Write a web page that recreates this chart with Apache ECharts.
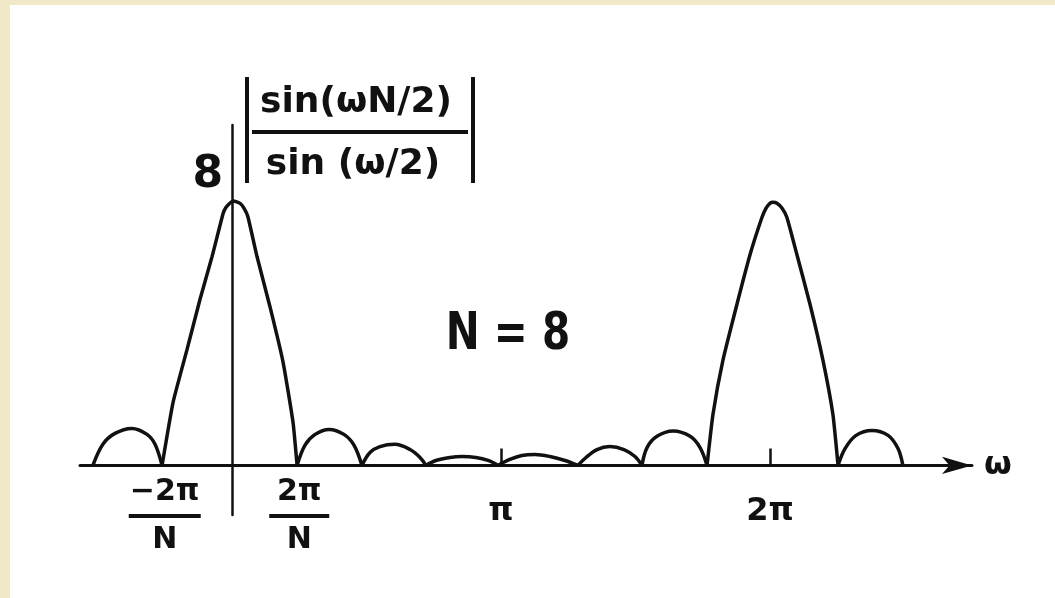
<!DOCTYPE html>
<html>
<head>
<meta charset="utf-8">
<script src="https://cdn.jsdelivr.net/npm/echarts@6/dist/echarts.min.js"></script>
<style>
  html, body { margin: 0; padding: 0; background: #f1e8c8; }
  #chart { position: absolute; left: 10px; top: 5px; width: 1045px; height: 593px; background: #fff; }
</style>
</head>
<body>
<div id="chart"></div>
<script>
// omega in units of pi, value = |sin(wN/2)/sin(w/2)| as drawn (N = 8)
const mainLobe0 = [[-0.26, 0], [-0.219, 1.91], [-0.167, 3.51], [-0.119, 5.02], [-0.074, 6.32], [-0.033, 7.62],
                   [-0.022, 7.81], [-0.007, 7.94], [0.005, 8], [0.03, 7.93], [0.045, 7.78], [0.059, 7.53],
                   [0.093, 6.32], [0.141, 4.81], [0.19, 3.12], [0.227, 1.3], [0.242, 0]];
const mainLobe1 = [[1.766, 0], [1.788, 1.54], [1.825, 3.18], [1.877, 4.87], [1.926, 6.38], [1.97, 7.5],
                   [1.985, 7.78], [2.0, 7.93], [2.011, 7.96], [2.026, 7.93], [2.045, 7.78], [2.063, 7.5],
                   [2.1, 6.38], [2.149, 4.87], [2.197, 3.18], [2.234, 1.54], [2.253, 0]];
const leftLobe = [[-0.517, 0], [-0.48, 0.64], [-0.435, 0.97], [-0.372, 1.12], [-0.316, 0.94], [-0.286, 0.64], [-0.26, 0]];
const lobeB = [[0.242, 0], [0.271, 0.61], [0.309, 0.94], [0.361, 1.09], [0.416, 0.94], [0.454, 0.61], [0.483, 0]];
const lobeC = [[0.483, 0], [0.513, 0.39], [0.55, 0.57], [0.606, 0.64], [0.662, 0.48], [0.699, 0.24], [0.721, 0]];
const lobeD = [[0.721, 0], [0.758, 0.15], [0.81, 0.24], [0.855, 0.27], [0.907, 0.24], [0.952, 0.15], [0.989, 0]];
const lobeE = [[0.989, 0], [1.033, 0.18], [1.078, 0.3], [1.126, 0.33], [1.182, 0.27], [1.238, 0.15], [1.286, 0]];
const lobeF = [[1.286, 0], [1.316, 0.24], [1.357, 0.48], [1.405, 0.57], [1.457, 0.48], [1.498, 0.27], [1.524, 0]];
const lobeG = [[1.524, 0], [1.543, 0.54], [1.58, 0.88], [1.64, 1.04], [1.703, 0.88], [1.74, 0.54], [1.766, 0]];
const lobeH = [[2.253, 0], [2.279, 0.51], [2.32, 0.91], [2.379, 1.06], [2.439, 0.91], [2.476, 0.51], [2.494, 0]];

const mainLobes = [mainLobe0, mainLobe1];
const sideLobes = [leftLobe, lobeB, lobeC, lobeD, lobeE, lobeF, lobeG, lobeH];

// x tick labels (value in units of pi)
const labelValues = [-0.25, 0.25, 1, 2];
const labelNumer = ['−2π', '2π', 'π', '2π'];
const labelDenom = ['N', 'N', '', ''];
const tickValues = [1, 2];
const peakValue = 8;

const ink = '#111';
const font = '"DejaVu Sans", sans-serif';

const chart = echarts.init(document.getElementById('chart'));

function lobeSeries(d, smooth) {
  return {
    type: 'line',
    data: d,
    showSymbol: false,
    smooth: smooth,
    silent: true,
    lineStyle: { color: ink, width: 3.5 }
  };
}

const option = {
  animation: false,
  backgroundColor: '#fff',
  grid: { left: 70, right: 83, top: 120, bottom: 83, containLabel: false, outerBoundsMode: 'none' },
  xAxis: {
    type: 'value',
    min: -0.565,
    max: 2.751,
    name: 'ω',
    nameLocation: 'end',
    nameGap: 12,
    nameTextStyle: { color: ink, fontSize: 32, fontWeight: 'bold', fontFamily: font, verticalAlign: 'middle', padding: [22, 0, 0, 0] },
    axisLine: {
      onZero: true,
      symbol: ['none', 'arrow'],
      symbolSize: [13, 30],
      lineStyle: { color: ink, width: 3 }
    },
    axisTick: { show: true, inside: true, length: 17, customValues: tickValues, lineStyle: { color: ink, width: 2.5 } },
    axisLabel: {
      show: true,
      customValues: labelValues,
      margin: -38,
      color: ink,
      fontFamily: font,
      formatter: function (v) {
        const i = labelValues.findIndex(function (x) { return Math.abs(x - v) < 1e-6; });
        if (i < 0) return '';
        if (labelDenom[i]) {
          const bar = i === 0 ? 'bw' : 'bn';
          return '{n|' + labelNumer[i] + '}\n{' + bar + '| }\n{d|' + labelDenom[i] + '}';
        }
        return '{s|' + labelNumer[i] + '}';
      },
      rich: {
        n: { fontSize: 30, fontWeight: 'bold', fontFamily: font, color: ink, lineHeight: 30 },
        d: { fontSize: 30, fontWeight: 'bold', fontFamily: font, color: ink, lineHeight: 30 },
        s: { fontSize: 32, fontWeight: 'bold', fontFamily: font, color: ink, lineHeight: 70 },
        bw: { width: 72, height: 4, lineHeight: 18, fontSize: 4, backgroundColor: ink },
        bn: { width: 60, height: 4, lineHeight: 18, fontSize: 4, backgroundColor: ink }
      }
    },
    splitLine: { show: false }
  },
  yAxis: {
    type: 'value',
    min: -1.5,
    max: 10.3,
    axisLine: { show: true, onZero: true, lineStyle: { color: ink, width: 2.5 } },
    axisTick: { show: false },
    splitLine: { show: false },
    axisLabel: {
      show: true,
      customValues: [peakValue],
      margin: -143,
      color: ink,
      fontSize: 44,
      fontWeight: 'bold',
      fontFamily: font,
      verticalAlign: 'bottom',
      lineHeight: 50
    }
  },
  graphic: [
    { type: 'rect', shape: { x: 235, y: 72, width: 4, height: 106 }, style: { fill: ink } },
    { type: 'rect', shape: { x: 461, y: 72, width: 4, height: 106 }, style: { fill: ink } },
    { type: 'rect', shape: { x: 242, y: 125, width: 216, height: 4 }, style: { fill: ink } },
    { type: 'text', x: 346, y: 98, style: { text: 'sin(ωN/2)', fill: ink, font: 'bold 36px ' + font, textAlign: 'center', textVerticalAlign: 'middle' } },
    { type: 'text', x: 343, y: 160, style: { text: 'sin (ω/2)', fill: ink, font: 'bold 36px ' + font, textAlign: 'center', textVerticalAlign: 'middle' } },
    { type: 'text', x: 498, y: 330, scaleX: 0.78, style: { text: 'N = 8', fill: ink, font: '600 52px ' + font, textAlign: 'center', textVerticalAlign: 'middle' } }
  ],
  series: mainLobes.map(function (d) { return lobeSeries(d, 0.15); })
    .concat(sideLobes.map(function (d) { return lobeSeries(d, 0.35); }))
};

chart.setOption(option);
</script>
</body>
</html>
